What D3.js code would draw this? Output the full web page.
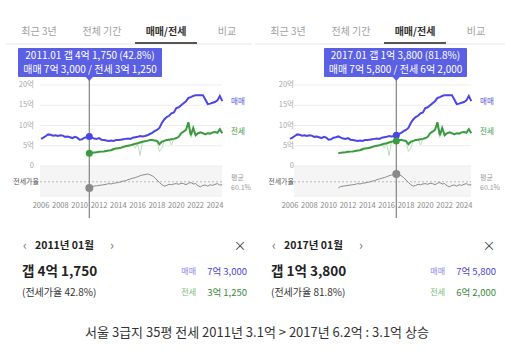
<!DOCTYPE html>
<html><head><meta charset="utf-8">
<script src="https://cdn.jsdelivr.net/npm/d3@7"></script>
<style>
body{margin:0;background:#fff;}
svg{display:block;font-family:"Noto Sans CJK KR","Noto Sans",sans-serif;}
</style></head><body>
<svg id="c" width="514" height="353"></svg>
<script>
// ---- data ----
const tabs = ["최근 3년", "전체 기간", "매매/전세", "비교"];
const yTicks = [0, 5, 10, 15, 20];
const yearTicks = [2006, 2008, 2010, 2012, 2014, 2016, 2018, 2020, 2022, 2024];
// quarterly sale price (억), 2006.00 ... 2024.75
const saleStart = 2006;
const sale = [
 6.7, 7.0, 7.4, 7.8,  7.7, 7.5, 7.6, 7.4,  7.6, 7.5, 7.2, 7.3,  7.1, 6.9, 7.2, 7.0,
 6.5, 6.6, 7.0, 7.1,  7.3, 7.0, 6.8, 6.7,  6.9, 6.5, 6.4, 6.3,  6.2, 6.3, 6.2, 6.4,
 6.4, 6.5, 6.6, 6.7,  6.8, 6.7, 7.0, 7.1,  7.2, 7.4, 7.3, 7.4,  7.58, 7.9, 8.2, 8.6,
 8.9, 9.4, 10.6, 11.5, 12.1, 12.4, 13.0, 13.2, 14.3, 14.5, 15.0, 15.5, 16.0, 16.8, 17.0, 17.3,
 17.5, 17.5, 17.5, 17.5, 16.4, 15.3, 15.4, 15.6, 15.8, 16.2, 17.3, 16.0
];
// quarterly jeonse price (억), 2011.00 ...
const jeonseStart = 2011;
const jeonse = [
 3.125, 3.3, 3.35, 3.4,  3.5, 3.55, 3.6, 3.7,  3.8, 3.9, 4.2, 4.3,  4.4, 4.5, 4.7, 4.9,
 5.0, 5.1, 5.3, 5.5,  5.6, 5.8, 6.0, 6.1,  6.2, 6.4, 6.4, 6.3,  6.2, 5.4, 6.0, 6.2,
 6.4, 6.5, 6.6, 6.7,  6.9, 7.2, 8.1, 8.5,  8.9, 10.8, 7.6, 9.4,  7.6, 8.1, 8.3, 8.1,
 7.8, 8.1, 8.0, 8.3,  8.4, 8.2, 9.1, 8.1
];
// quarterly lowest jeonse deals (억), 2011.00 ... (faint spikes)
const jeonseLow = [
 3.125, 3.3, 3.35, 3.4,  3.5, 3.55, 3.6, 3.7,  3.8, 3.9, 3.7, 4.3,  4.4, 4.5, 4.7, 4.9,
 5.0, 5.1, 5.3, 4.4,  5.6, 2.6, 6.0, 6.1,  6.2, 6.4, 6.4, 6.3,  6.2, 3.6, 4.4, 6.2,
 6.4, 6.5, 5.2, 6.7,  6.9, 7.2, 8.1, 8.5,  8.9, 10.0, 7.0, 9.0,  7.6, 8.1, 8.3, 8.1,
 7.8, 8.1, 8.0, 8.3,  8.4, 8.2, 9.1, 8.1
];
// quarterly jeonse ratio (%), 2011.00 ...
const ratio = [
 42.8, 47, 48, 49,  50, 51, 52, 53,  55, 54, 56, 57,  58, 60, 62, 63,
 66, 68, 70, 72,  74, 77, 79, 80,  81.8, 80, 77, 72,  65, 58, 52, 48,
 50, 53, 52, 54,  55, 53, 56, 55,  52, 56, 58, 54,  55, 49, 46, 50,
 51, 48, 52, 50,  53, 55, 51, 52
];
const ratioAvg = 60.1;
const panels = [
 {date: 2011.0, sale: 7.3, jeonse: 3.125, ratio: 42.8,
  tip1: "2011.01 갭 4억 1,750 (42.8%)", tip2: "매매 7억 3,000 / 전세 3억 1,250",
  month: "2011년 01월", gap: "갭 4억 1,750", rateText: "(전세가율 42.8%)",
  saleText: "7억 3,000", jeonseText: "3억 1,250"},
 {date: 2017.0, sale: 7.58, jeonse: 6.2, ratio: 81.8,
  tip1: "2017.01 갭 1억 3,800 (81.8%)", tip2: "매매 7억 5,800 / 전세 6억 2,000",
  month: "2017년 01월", gap: "갭 1억 3,800", rateText: "(전세가율 81.8%)",
  saleText: "7억 5,800", jeonseText: "6억 2,000"}
];
const caption = "서울 3급지 35평 전세 2011년 3.1억 > 2017년 6.2억 : 3.1억 상승";

// ---- layout ----
const svg = d3.select("#c");
const BLUE = "#4b45e6", GREEN = "#3a9a3e", TIPBG = "#5b5fe3";
const layouts = [
 {dx: 0, gridX0: 40, labelR: 34, rateR: 39, tipX0: 18, tipX1: 162, divX0: 6, divX1: 252},
 {dx: 249, gridX0: 45, labelR: 45, rateR: 45, tipX0: 75, tipX1: 218, divX0: 6, divX1: 256}
];
const x = d3.scaleLinear().domain([2006, 2024]).range([41, 215]);
const y = d3.scaleLinear().domain([0, 20]).range([166, 85]);
const yr = d3.scaleLinear().domain([42.8, 81.8]).range([188, 174]);
const tabX = [39, 102, 166, 227];

const saleData = sale.map((v, i) => ({t: saleStart + i / 4, v}));
const jeonseData = jeonse.map((v, i) => ({t: jeonseStart + i / 4, v}));
const jeonseLowData = jeonseLow.map((v, i) => ({t: jeonseStart + i / 4, v}));
const ratioData = ratio.map((v, i) => ({t: jeonseStart + i / 4, v}));

panels.forEach((p, pi) => {
  const L = layouts[pi];
  const g = svg.append("g").attr("transform", `translate(${L.dx},0)`);
  // tabs
  g.append("line").attr("x1", L.divX0).attr("x2", L.divX1).attr("y1", 44).attr("y2", 44)
    .attr("stroke", "#e6e6e6").attr("stroke-width", 1);
  tabs.forEach((t, i) => {
    g.append("text").attr("x", tabX[i]).attr("y", 32).attr("text-anchor", "middle")
      .attr("dominant-baseline", "middle")
      .attr("font-size", 10).attr("font-weight", i === 2 ? 700 : 400)
      .attr("fill", i === 2 ? "#333" : "#a0a0a0").text(t);
  });
  g.append("line").attr("x1", 135).attr("x2", 197).attr("y1", 43).attr("y2", 43)
    .attr("stroke", "#555").attr("stroke-width", 2);

  const gx1 = 222;
  // ratio band
  g.append("rect").attr("x", L.gridX0).attr("y", 166).attr("width", gx1 - L.gridX0).attr("height", 30)
    .attr("fill", "#f5f5f5");
  g.append("line").attr("x1", L.gridX0).attr("x2", gx1).attr("y1", 196).attr("y2", 196)
    .attr("stroke", "#ececec");
  // grid + y labels
  yTicks.forEach(v => {
    g.append("line").attr("x1", L.gridX0).attr("x2", gx1).attr("y1", y(v)).attr("y2", y(v))
      .attr("stroke", "#ededed").attr("stroke-width", 1);
    g.append("text").attr("x", L.labelR).attr("y", y(v)).attr("text-anchor", "end")
      .attr("dominant-baseline", "middle").attr("font-size", 7.5).attr("fill", "#a8a8a8")
      .text(v === 0 ? "0" : v + "억");
  });
  // avg dashed
  g.append("line").attr("x1", L.gridX0).attr("x2", gx1).attr("y1", yr(ratioAvg)).attr("y2", yr(ratioAvg))
    .attr("stroke", "#aaa").attr("stroke-dasharray", "2,2").attr("stroke-width", 0.8);
  g.append("text").attr("x", L.rateR).attr("y", yr(ratioAvg)).attr("text-anchor", "end")
    .attr("dominant-baseline", "middle").attr("font-size", 7).attr("fill", "#555").text("전세가율");
  g.append("text").attr("x", 231).attr("y", 178).attr("dominant-baseline", "middle")
    .attr("font-size", 7).attr("fill", "#999").text("평균");
  g.append("text").attr("x", 231).attr("y", 188).attr("dominant-baseline", "middle")
    .attr("font-size", 7).attr("fill", "#999").text(ratioAvg + "%");
  // year axis
  yearTicks.forEach(t => {
    g.append("text").attr("x", x(t)).attr("y", 206).attr("text-anchor", "middle")
      .attr("dominant-baseline", "middle").attr("font-size", 7.5).attr("fill", "#888").text(t);
  });
  // lines
  const line = d3.line().x(d => x(d.t)).y(d => y(d.v));
  const rline = d3.line().x(d => x(d.t)).y(d => yr(d.v));
  g.append("path").attr("d", rline(ratioData)).attr("fill", "none").attr("stroke", "#8a8a8a").attr("stroke-width", 1);
  g.append("path").attr("d", line(jeonseLowData)).attr("fill", "none").attr("stroke", "#a9d6ab").attr("stroke-width", 0.8);
  g.append("path").attr("d", line(jeonseData)).attr("fill", "none").attr("stroke", GREEN).attr("stroke-width", 2);
  g.append("path").attr("d", line(saleData)).attr("fill", "none").attr("stroke", BLUE).attr("stroke-width", 2);
  g.append("text").attr("x", 231).attr("y", y(sale[sale.length - 1]) + 1).attr("dominant-baseline", "middle")
    .attr("font-size", 7.5).attr("fill", "#5a55dd").text("매매");
  g.append("text").attr("x", 231).attr("y", y(jeonse[jeonse.length - 1]) - 1).attr("dominant-baseline", "middle")
    .attr("font-size", 7.5).attr("fill", GREEN).text("전세");

  // cursor
  const cx = x(p.date);
  g.append("line").attr("x1", cx).attr("x2", cx).attr("y1", 78).attr("y2", 218)
    .attr("stroke", "#8c8c8c").attr("stroke-width", 1.3);
  g.append("circle").attr("cx", cx).attr("cy", y(p.sale)).attr("r", 3.5).attr("fill", BLUE);
  g.append("circle").attr("cx", cx).attr("cy", y(p.jeonse)).attr("r", 3.5).attr("fill", GREEN);
  g.append("circle").attr("cx", cx).attr("cy", yr(p.ratio)).attr("r", 4).attr("fill", "#8a8a8a");

  // tooltip
  g.append("rect").attr("x", L.tipX0).attr("y", 48).attr("width", L.tipX1 - L.tipX0).attr("height", 29)
    .attr("fill", TIPBG).attr("rx", 1);
  g.append("path").attr("d", `M${cx - 3.5},77 L${cx + 3.5},77 L${cx},81 Z`).attr("fill", TIPBG);
  const tc = (L.tipX0 + L.tipX1) / 2;
  g.append("text").attr("x", tc).attr("y", 56).attr("text-anchor", "middle").attr("dominant-baseline", "middle")
    .attr("font-size", 10).attr("fill", "#fff").text(p.tip1);
  g.append("text").attr("x", tc).attr("y", 70).attr("text-anchor", "middle").attr("dominant-baseline", "middle")
    .attr("font-size", 10).attr("fill", "#fff").text(p.tip2);

  // detail panel
  g.append("text").attr("x", 25).attr("y", 246).attr("text-anchor", "middle").attr("dominant-baseline", "middle")
    .attr("font-size", 13).attr("fill", "#777").text("‹");
  g.append("text").attr("x", 35).attr("y", 246).attr("dominant-baseline", "middle")
    .attr("font-size", 10.5).attr("font-weight", 700).attr("fill", "#222").text(p.month);
  g.append("text").attr("x", 112).attr("y", 246).attr("text-anchor", "middle").attr("dominant-baseline", "middle")
    .attr("font-size", 13).attr("fill", "#777").text("›");
  g.append("text").attr("x", 240).attr("y", 246).attr("text-anchor", "middle").attr("dominant-baseline", "middle")
    .attr("font-size", 13).attr("fill", "#444").text("×");
  g.append("text").attr("x", 22).attr("y", 272).attr("dominant-baseline", "middle")
    .attr("font-size", 13.5).attr("font-weight", 700).attr("fill", "#222").text(p.gap);
  g.append("text").attr("x", 22).attr("y", 293).attr("dominant-baseline", "middle")
    .attr("font-size", 10).attr("fill", "#333").text(p.rateText);
  g.append("text").attr("x", 247).attr("y", 272).attr("text-anchor", "end").attr("dominant-baseline", "middle")
    .attr("font-size", 9.5).attr("fill", "#4b45d8").text(p.saleText);
  g.append("text").attr("x", 196).attr("y", 272).attr("text-anchor", "end").attr("dominant-baseline", "middle")
    .attr("font-size", 8).attr("fill", "#8a86ee").text("매매");
  g.append("text").attr("x", 247).attr("y", 293).attr("text-anchor", "end").attr("dominant-baseline", "middle")
    .attr("font-size", 9.5).attr("fill", "#3a8a3e").text(p.jeonseText);
  g.append("text").attr("x", 196).attr("y", 293).attr("text-anchor", "end").attr("dominant-baseline", "middle")
    .attr("font-size", 8).attr("fill", "#7ab87c").text("전세");
});

svg.append("text").attr("x", 257).attr("y", 333).attr("text-anchor", "middle").attr("dominant-baseline", "middle")
  .attr("font-size", 13).attr("fill", "#333").text(caption);
</script>
</body></html>
